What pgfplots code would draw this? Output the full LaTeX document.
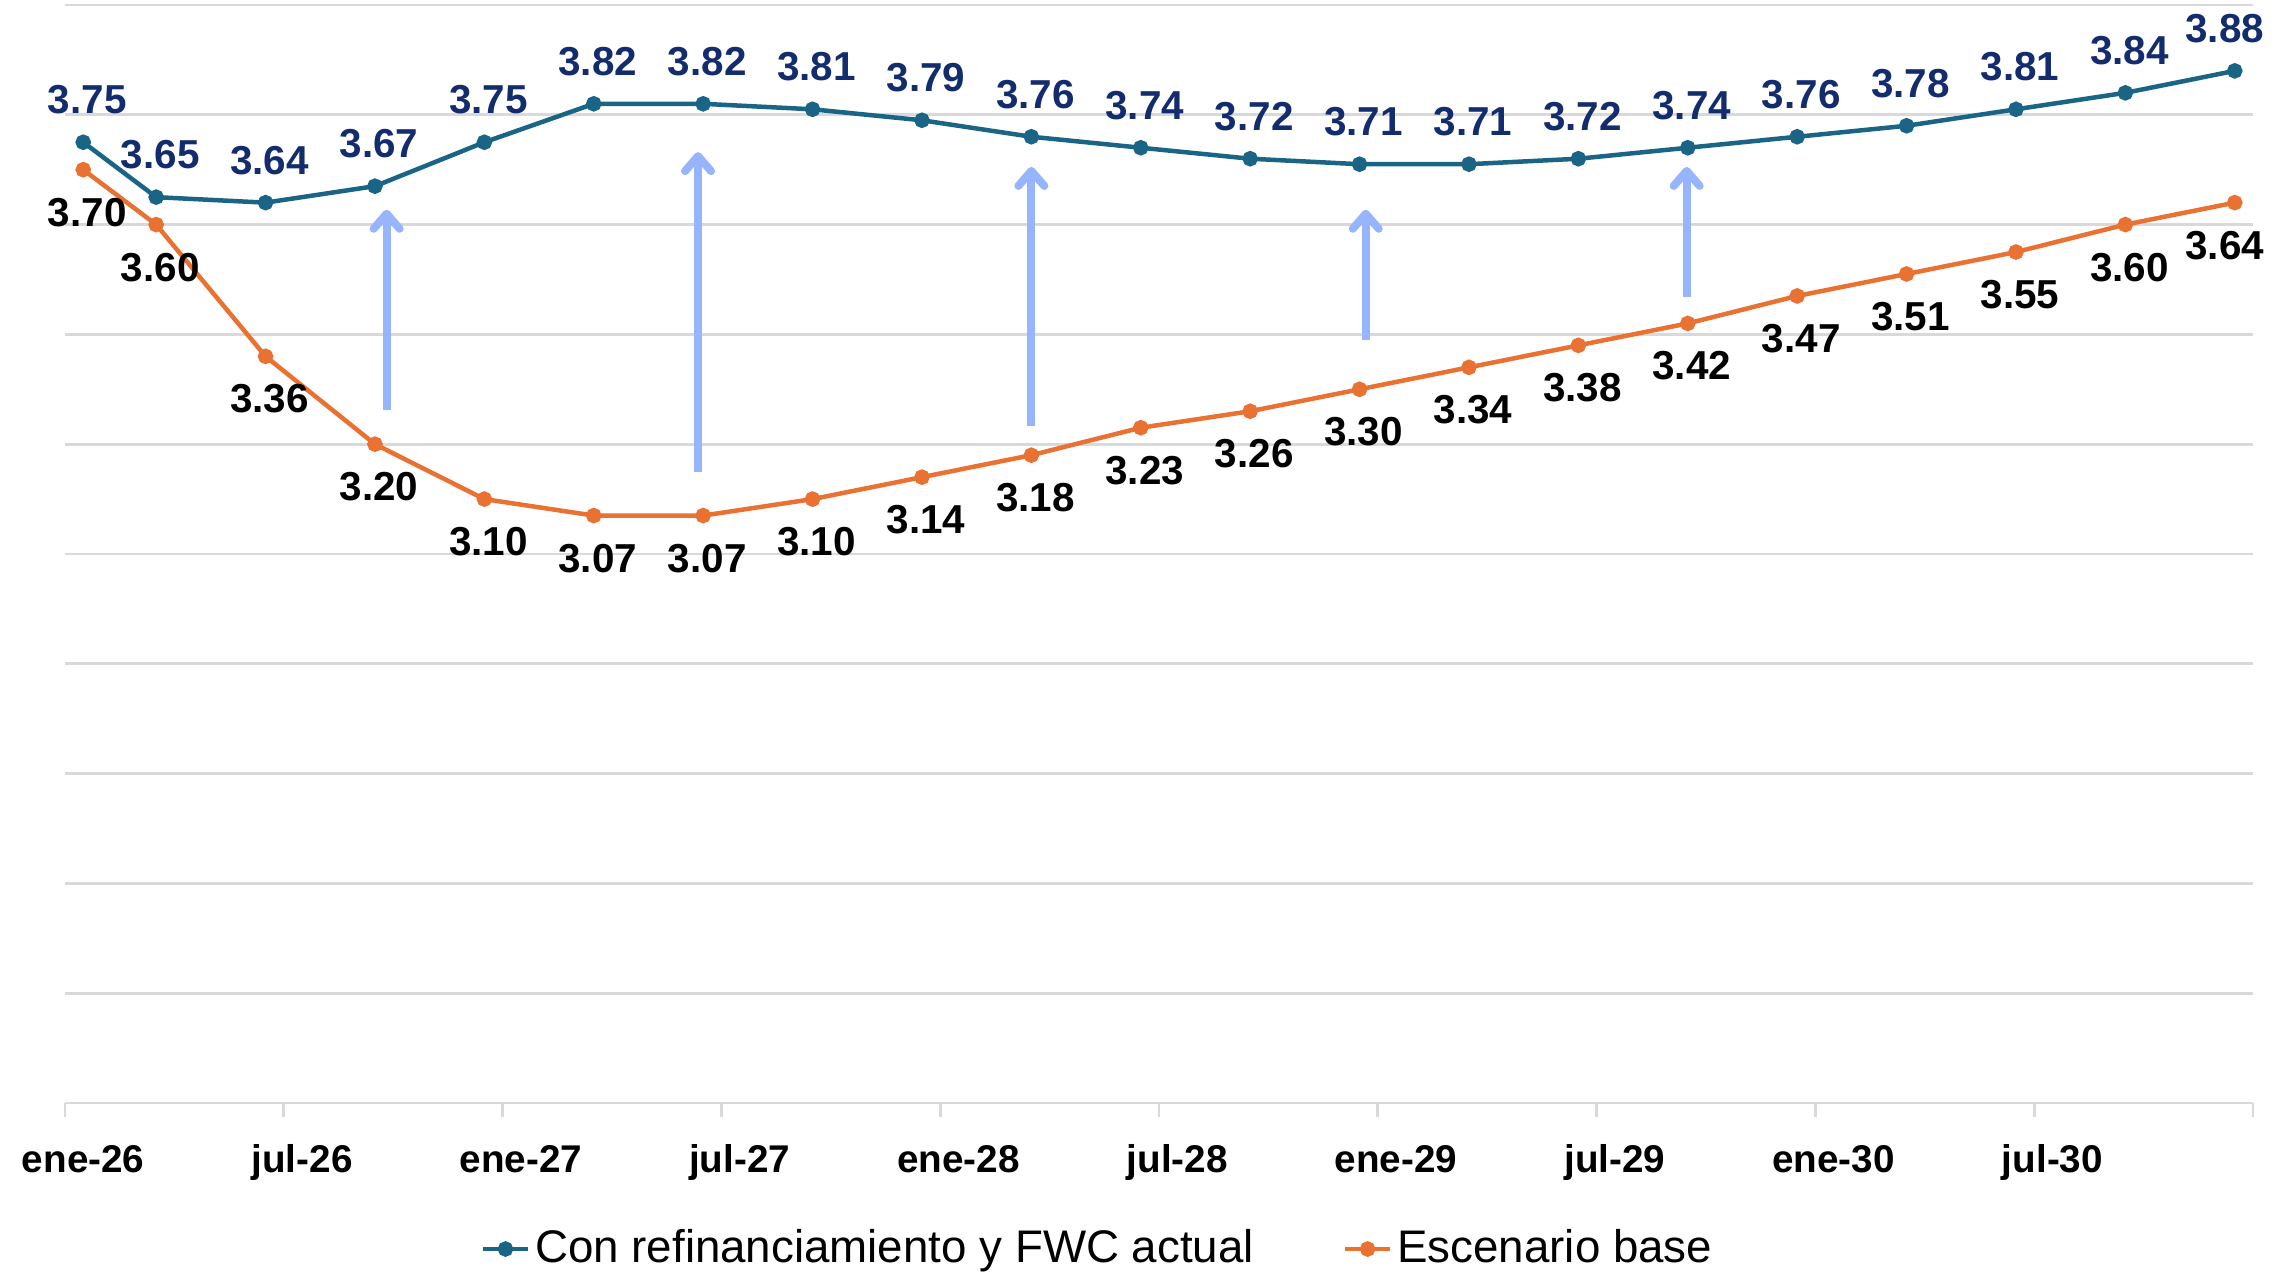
\documentclass[border=0pt]{standalone}
\usepackage{fontspec}
\setmainfont{Liberation Sans}
\usepackage{pgfplots}
\usepackage{pgfplotstable}
\pgfplotsset{compat=1.18}
\usetikzlibrary{arrows.meta}
\definecolor{serA}{HTML}{1A6585}
\definecolor{serB}{HTML}{E97132}
\definecolor{labA}{HTML}{132C6E}
\definecolor{arr}{HTML}{97B5FF}
\definecolor{gridc}{HTML}{D9D9D9}

\pgfplotstableread{
x    con   base  dx
0.5  3.75  3.70  0.4
2.5  3.65  3.60  0.4
5.5  3.64  3.36  0.4
8.5  3.67  3.20  0.4
11.5 3.75  3.10  0.4
14.5 3.82  3.07  0.4
17.5 3.82  3.07  0.4
20.5 3.81  3.10  0.4
23.5 3.79  3.14  0.4
26.5 3.76  3.18  0.4
29.5 3.74  3.23  0.4
32.5 3.72  3.26  0.4
35.5 3.71  3.30  0.4
38.5 3.71  3.34  0.4
41.5 3.72  3.38  0.4
44.5 3.74  3.42  0.4
47.5 3.76  3.47  0.4
50.5 3.78  3.51  0.4
53.5 3.81  3.55  0.4
56.5 3.84  3.60  0.4
59.5 3.88  3.64  -1.0
}\datatable

\begin{document}
\begin{tikzpicture}
\begin{axis}[
  scale only axis, width=218.8mm, height=109.8mm,
  xmin=0, xmax=60, ymin=2, ymax=4,
  axis line style={draw=none},
  ytick={2,2.2,2.4,2.6,2.8,3,3.2,3.4,3.6,3.8,4},
  yticklabels={}, ytick style={draw=none},
  ymajorgrids, grid style={gridc, line width=0.27mm},
  xtick={0,6,...,60},
  xticklabels={ene-26,jul-26,ene-27,jul-27,ene-28,jul-28,ene-29,jul-29,ene-30,jul-30,},
  xtick pos=left, tick align=outside, major tick length=1.4mm,
  xtick style={gridc, line width=0.27mm},
  x tick label style={font=\fontsize{11}{13}\selectfont\bfseries, anchor=base, xshift=1.82mm, yshift=-5.55mm},
  clip=false,
  /pgf/number format/assume math mode=true,
  legend style={at={(0.4726,-0.133)}, anchor=center, draw=none, fill=none,
    font=\fontsize{13}{15}\selectfont, inner sep=0pt,
    nodes={inner sep=0.5mm},
    /tikz/every even column/.append style={column sep=8.4mm}},
  legend columns=2,
  legend image code/.code={\draw[mark repeat=2,mark phase=2,#1] plot coordinates {(0mm,0mm) (2.25mm,0mm) (4.5mm,0mm)};},
]
\addplot[serA, line width=0.45mm, mark=*, mark size=0.55mm, mark options={solid},
  visualization depends on={\thisrow{dx} \as \dx},
  nodes near coords={\pgfmathprintnumber[fixed,fixed zerofill,precision=2]{\pgfplotspointmeta}},
  every node near coord/.append style={font=\fontsize{11.5}{13}\selectfont\bfseries, text=labA, anchor=base, yshift=2.85mm, xshift=\dx mm}
] table[x=x, y=con] {\datatable};
\addlegendentry{Con refinanciamiento y FWC actual}
\addplot[serB, line width=0.45mm, mark=*, mark size=0.55mm, mark options={solid},
  visualization depends on={\thisrow{dx} \as \dx},
  nodes near coords={\pgfmathprintnumber[fixed,fixed zerofill,precision=2]{\pgfplotspointmeta}},
  every node near coord/.append style={font=\fontsize{11.5}{13}\selectfont\bfseries, text=black, anchor=base, yshift=-5.65mm, xshift=\dx mm}
] table[x=x, y=base] {\datatable};
\addlegendentry{Escenario base}

\draw[arr, line width=0.8mm, -{Straight Barb[length=1.5mm, width=2.6mm, round]}] (axis cs:8.82,3.262) -- (axis cs:8.82,3.627);
\draw[arr, line width=0.8mm, -{Straight Barb[length=1.5mm, width=2.6mm, round]}] (axis cs:17.36,3.150) -- (axis cs:17.36,3.732);
\draw[arr, line width=0.8mm, -{Straight Barb[length=1.5mm, width=2.6mm, round]}] (axis cs:26.5,3.234) -- (axis cs:26.5,3.705);
\draw[arr, line width=0.8mm, -{Straight Barb[length=1.5mm, width=2.6mm, round]}] (axis cs:35.67,3.390) -- (axis cs:35.67,3.627);
\draw[arr, line width=0.8mm, -{Straight Barb[length=1.5mm, width=2.6mm, round]}] (axis cs:44.47,3.469) -- (axis cs:44.47,3.705);
\end{axis}
\pgfresetboundingbox
\path (-6.5mm,-17.3mm) rectangle (221.3mm,110.3mm);
\end{tikzpicture}
\end{document}
